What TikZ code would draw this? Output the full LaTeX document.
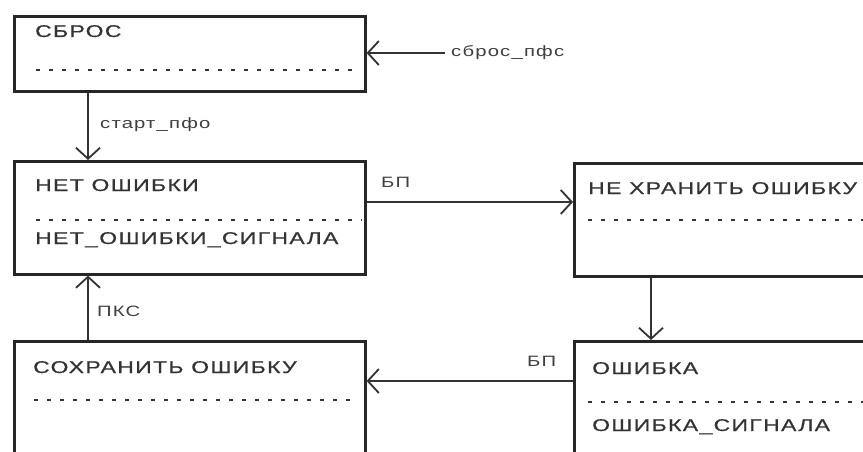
\documentclass[tikz,border=0pt]{standalone}
\usepackage{fontspec}
\setmainfont[FakeStretch=1.35,LetterSpace=8]{Liberation Sans}
\newfontfamily\boxfont[FakeStretch=1.35,LetterSpace=8,FakeBold=0.6]{Liberation Sans}
\usetikzlibrary{arrows.meta}
\begin{document}
\begin{tikzpicture}[x=1pt,y=-1pt,
  statebox/.style={draw=black!85,line width=2.6pt,rectangle,inner sep=0pt,anchor=north west},
  boxtext/.style={anchor=west,inner sep=0pt,text height=12pt,text depth=0pt,font=\boxfont\fontsize{17}{18}\selectfont,text=black!80},
  lbl/.style={anchor=west,inner sep=0pt,font=\fontsize{15}{16}\selectfont,text=black!75},
  sep/.style={line width=1.8pt,black!80,dash pattern=on 4pt off 9pt},
  conn/.style={line width=1.8pt,black!80,-{Straight Barb[length=11pt,width=24pt,line width=1.8pt]}}
]
\useasboundingbox (0,0) rectangle (863,452);
\clip (0,0) rectangle (863,452);
\fill[white] (0,0) rectangle (863,452);

% boxes
\node[statebox,minimum width=351pt,minimum height=75pt] (sbros) at (13,15) {};
\node[statebox,minimum width=351pt,minimum height=113pt] (net) at (13,160) {};
\node[statebox,minimum width=330pt,minimum height=113pt] (nekhr) at (573,162) {};
\node[statebox,minimum width=330pt,minimum height=160pt] (osh) at (573,340) {};
\node[statebox,minimum width=351pt,minimum height=160pt] (sokhr) at (13,340) {};

% texts
\node[boxtext] (t1) at (35,31) {СБРОС};
\node[boxtext] (t2) at (35,185) {НЕТ ОШИБКИ};
\node[boxtext] (t3) at (35,238) {НЕТ\_ОШИБКИ\_СИГНАЛА};
\node[boxtext] (t4) at (588,188) {НЕ ХРАНИТЬ ОШИБКУ};
\node[boxtext] (t5) at (592,368) {ОШИБКА};
\node[boxtext] (t6) at (592,425) {ОШИБКА\_СИГНАЛА};
\node[boxtext] (t7) at (33,367) {СОХРАНИТЬ ОШИБКУ};

% dotted separators
\draw[sep] ([xshift=23pt,yshift=-55pt]sbros.north west) -- ([xshift=-12pt,yshift=-55pt]sbros.north east);
\draw[sep] ([xshift=23pt,yshift=-60pt]net.north west) -- ([xshift=-5pt,yshift=-60pt]net.north east);
\draw[sep] ([xshift=15pt,yshift=-58pt]nekhr.north west) -- ([xshift=-15pt,yshift=-58pt]nekhr.north east);
\draw[sep] ([xshift=15pt,yshift=-62pt]osh.north west) -- ([xshift=-15pt,yshift=-62pt]osh.north east);
\draw[sep] ([xshift=21pt,yshift=-60pt]sokhr.north west) -- ([xshift=-12pt,yshift=-60pt]sokhr.north east);

% labels
\node[lbl] (lsbros) at (451,53) {сброс\_пфс};
\node[lbl] (lstart) at (100,125) {старт\_пфо};
\node[lbl] (lbp1) at (381,182) {БП};
\node[lbl] (lbp2) at (527,361) {БП};
\node[lbl] (lpks) at (97,311) {ПКС};

% connectors
\draw[conn] ([xshift=-6pt]lsbros.west) -- (lsbros.west -| sbros.east);
\draw[conn] ([xshift=75pt]sbros.south west) -- ([xshift=75pt]net.north west);
\draw[conn] ([yshift=-42pt]net.north east) -- ([yshift=-40pt]nekhr.north west);
\draw[conn] ([xshift=78pt]nekhr.south west) -- ([xshift=78pt]osh.north west);
\draw[conn] ([yshift=-41pt]osh.north west) -- ([yshift=-41pt]sokhr.north east);
\draw[conn] ([xshift=75pt]sokhr.north west) -- ([xshift=75pt]net.south west);
\end{tikzpicture}
\end{document}
